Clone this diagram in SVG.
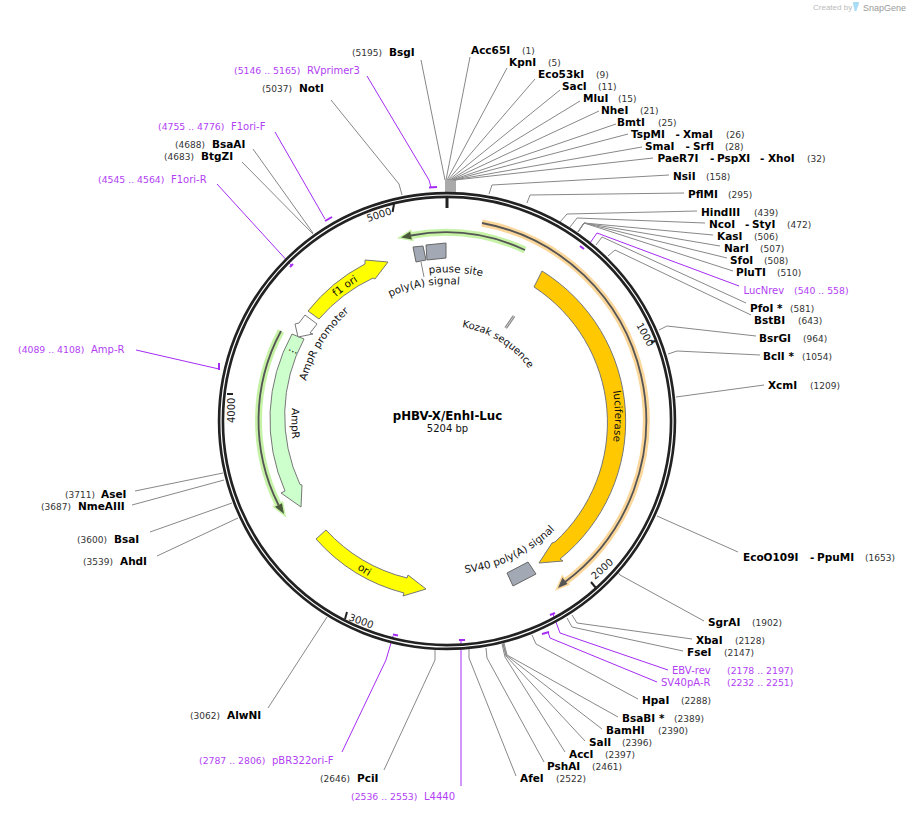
<svg xmlns="http://www.w3.org/2000/svg" width="911" height="813" viewBox="0 0 911 813">
<style>
text{font-family:"DejaVu Sans",sans-serif}
.n{font-size:10.5px;font-weight:bold;fill:#000}
.p{font-size:9px;fill:#333}
.pr{font-size:10px;fill:#b23ff5}
.pp{font-size:9.3px;fill:#b23ff5}
.f{font-size:10.4px;fill:#111}
.t{font-size:10px;fill:#222}
.l{fill:none;stroke:#888;stroke-width:1}
.lp{fill:none;stroke:#a52cf5;stroke-width:1}
.m{fill:none;stroke:#a52cf5;stroke-width:2}
.a{stroke:#777;stroke-width:1;stroke-linejoin:miter}
.b{fill:#a2a9b4;stroke:#666;stroke-width:1}
.g{fill:none;stroke:#c6f2a6;stroke-width:7}
.o{fill:none;stroke:#fbd79b;stroke-width:7}
.d{fill:none;stroke:#555;stroke-width:1.8}
.tk{stroke:#222;stroke-width:2;fill:none}
</style>
<defs>
<path id="pK" d="M462,327 A105,105 0 0 1 535,378"/>
<path id="pP" d="M429,273.5 A149,149 0 0 1 495,280"/>
<path id="pA" d="M390,297 A137,137 0 0 1 480,288"/>
<path id="pS" d="M465,573 A152,152 0 0 0 575,505"/>
<path id="pR" d="M306,381 A147,147 0 0 1 370,296"/>
<path id="pF" d="M336,297 A165,165 0 0 1 380,270"/>
<path id="pO" d="M357,569 A173.5,173.5 0 0 0 400,590"/>
<path id="pL" d="M613,391 A166.5,166.5 0 0 1 606,470"/>
<path id="pM" d="M292,408 A155.5,155.5 0 0 0 297,462"/>
</defs>

<g id="logo">
<text x="813" y="10" style="font-family:'Liberation Sans',sans-serif;font-size:8px;fill:#bbb">Created by</text>
<path d="M853,2 L859,2 C859,6 857,7 856.5,11 L854.5,11 C854.5,7 853,6 853,2 Z" fill="#a9dcf5"/>
<text x="863" y="11" style="font-family:'Liberation Sans',sans-serif;font-size:9px;fill:#9a9a9a">SnapGene</text>
</g>

<g id="connectors">
<rect x="445" y="180" width="11" height="12" fill="#aaa"/>
<polyline class="l" points="421,60 445,180"/>
<polyline class="l" points="470,57 446,180"/>
<polyline class="l" points="507,68 447,180"/>
<polyline class="l" points="535,79 448,180"/>
<polyline class="l" points="560,90 449,180"/>
<polyline class="l" points="580,101 450,180"/>
<polyline class="l" points="599,111 451,180"/>
<polyline class="l" points="616,124 452,180"/>
<polyline class="l" points="628,134 453,180"/>
<polyline class="l" points="642,147 454,180"/>
<polyline class="l" points="653,158 455,180"/>
<polyline class="l" points="669,175 492,185 489,194"/>
<polyline class="l" points="684,193 530,195 527,203"/>
<polyline class="l" points="697,211 567,214 560,222"/>
<polyline class="l" points="705,223 577,218 570,227"/>
<polyline class="l" points="713,235 584,223 578,232"/>
<polyline class="l" points="720,246 584,223 578,232"/>
<polyline class="l" points="727,258 584,223 578,232"/>
<polyline class="l" points="733,271 584,223 578,232"/>
<polyline class="lp" points="739,286 597,233 590,243"/>
<polyline class="l" points="746,303 602,237 596,245"/>
<polyline class="l" points="751,315 615,250 608,256"/>
<polyline class="l" points="756,336 667,326 659,330"/>
<polyline class="l" points="760,355 677,351 668,354"/>
<polyline class="l" points="764,385 676,397"/>
<polyline class="l" points="738,552 657,516"/>
<polyline class="l" points="704,621 620,575 617,571"/>
<polyline class="l" points="692,639 577,623 572,615"/>
<polyline class="l" points="683,651 572,627 567,618"/>
<polyline class="lp" points="668,670 560,633 553,614"/>
<polyline class="lp" points="657,682 550,638 548,632"/>
<polyline class="l" points="638,699 536,644 532,635"/>
<polyline class="l" points="618,717 507,655 504,643"/>
<polyline class="l" points="602,729 506,655 503,643"/>
<polyline class="l" points="585,741 506,656 503,644"/>
<polyline class="l" points="565,752 505,657 502,644"/>
<polyline class="l" points="544,762 487,658 486,648"/>
<polyline class="l" points="516,776 469,658 469,649"/>
<polyline class="l" points="384,770 435,660 435,650"/>
<polyline class="lp" points="461,786 461,640"/>
<polyline class="lp" points="342,752 386,660 393,636"/>
<polyline class="l" points="268,708 327,617"/>
<polyline class="l" points="157,556 238,518"/>
<polyline class="l" points="150,532 232,503"/>
<polyline class="l" points="132,505 224,480"/>
<polyline class="l" points="135,491 223,473"/>
<polyline class="lp" points="136,350 219,369"/>
<polyline class="lp" points="217,184 291,265"/>
<polyline class="l" points="242,162 313,234"/>
<polyline class="l" points="253,149 313,233"/>
<polyline class="lp" points="275,132 325,219"/>
<polyline class="l" points="331,100 399,184 402,195"/>
<polyline class="lp" points="367,76 429,180 431,187"/>
</g>

<g id="primer-marks">
<line class="m" x1="429" y1="187.5" x2="437" y2="187"/>
<line class="m" x1="325" y1="221" x2="332" y2="217"/>
<line class="m" x1="290" y1="267" x2="293" y2="264"/>
<line class="m" x1="219" y1="363" x2="219" y2="370"/>
<line class="m" x1="580" y1="246" x2="584" y2="249"/>
<line class="m" x1="550" y1="615" x2="555" y2="613"/>
<line class="m" x1="542" y1="634" x2="549" y2="632"/>
<line class="m" x1="459" y1="640" x2="465" y2="640"/>
<line class="m" x1="393" y1="634.5" x2="398" y2="635.5"/>
</g>

<g id="backbone">
<circle cx="447" cy="421" r="226" fill="none" stroke="#222" stroke-width="6.5"/>
<circle cx="447" cy="421" r="226" fill="none" stroke="#fff" stroke-width="1.2"/>
<line x1="447" y1="197" x2="447" y2="208" stroke="#222" stroke-width="3"/>
<line class="tk" x1="394" y1="204" x2="392.6" y2="212"/>
<line class="tk" x1="655" y1="341" x2="651" y2="342.5"/>
<line class="tk" x1="596" y1="588" x2="591" y2="582"/>
<line class="tk" x1="347" y1="612" x2="345" y2="619"/>
<line class="tk" x1="227" y1="394" x2="233" y2="394"/>
<text class="t" transform="translate(368,222) rotate(-18)">5000</text>
<text class="t" transform="translate(636,325) rotate(62)">1000</text>
<text class="t" transform="translate(595,580) rotate(-42)">2000</text>
<text class="t" transform="translate(348,620) rotate(20)">3000</text>
<text class="t" transform="translate(235,423) rotate(-90)">4000</text>
</g>

<g id="feature-luciferase">
<path class="a" fill="#ffc800" d="M542,271 A177,177 0 0 1 560,559 L563,561 L539,563 L552,543 L555,542 A162,162 0 0 0 534,287 Z"/>
<text class="f"><textPath href="#pL">luciferase</textPath></text>
</g>
<g id="feature-LucNrev-arc">
<path class="o" d="M482,223 A201,201 0 0 1 565,582"/>
<polygon points="567.5,584 562.5,577.5 558,588" fill="#fbd79b" stroke="#fbd79b" stroke-width="3"/>
<path class="d" d="M482,223 A201,201 0 0 1 565,582"/>
<polygon points="567.5,584 562.5,577.5 558,588" fill="#555"/>
</g>
<g id="feature-top-arc">
<path class="g" d="M525,250 A189,189 0 0 0 411,235.5"/>
<polygon points="410.2,231.6 411.8,239.4 401,237.4" fill="#c6f2a6" stroke="#c6f2a6" stroke-width="3"/>
<path class="d" d="M525,250 A189,189 0 0 0 411,235.5"/>
<polygon points="410.2,231.6 411.8,239.4 401,237.4" fill="#4a5a3a"/>
</g>
<g id="feature-left-arc">
<path class="g" d="M281,331 A189,189 0 0 0 278.5,505"/>
<polygon points="275,506.8 282,503.2 284,514" fill="#c6f2a6" stroke="#c6f2a6" stroke-width="3"/>
<path class="d" d="M281,331 A189,189 0 0 0 278.5,505"/>
<polygon points="275,506.8 282,503.2 284,514" fill="#4a5a3a"/>
</g>
<g id="feature-ampr">
<path class="a" fill="#ccffcc" d="M292,334 A177,177 0 0 0 285,491 L281,493 L301,507 L302,485 L300,484.5 A162,162 0 0 1 304,339 Z"/>
<text class="f"><textPath href="#pM">AmpR</textPath></text>
<text class="f" transform="translate(288,350) rotate(25)">...</text>
</g>
<g id="feature-ampr-promoter">
<polygon class="a" fill="#fff" points="305,315 299,323 295,324 298,337 313,334 310,333 317,324"/>
<text class="f"><textPath href="#pR">AmpR promoter</textPath></text>
</g>
<g id="feature-f1-ori">
<path class="a" fill="#ffff00" d="M308,311 A177,177 0 0 1 365,264 L365,260 L388,262 L375,279 L373,278 A163,163 0 0 0 319,319 Z"/>
<text class="f"><textPath href="#pF">f1 ori</textPath></text>
</g>
<g id="feature-ori">
<path class="a" fill="#ffff00" d="M316,539 A176,176 0 0 0 404,593 L403,596 L426,589 L408,575 L407,578 A163,163 0 0 1 326,530 Z"/>
<text class="f"><textPath href="#pO">ori</textPath></text>
</g>
<g id="feature-polyA">
<polygon class="b" points="413,247 423,246 426,260 416,262"/>
<line x1="421" y1="262" x2="424" y2="277" stroke="#888"/>
<text class="f"><textPath href="#pA">poly(A) signal</textPath></text>
</g>
<g id="feature-pause">
<polygon class="b" points="426,245 446,243 446,258 427,260"/>
<text class="f"><textPath href="#pP">pause site</textPath></text>
</g>
<g id="feature-sv40">
<polygon class="b" points="507,573 528,562 536,574 513,586"/>
<text class="f"><textPath href="#pS">SV40 poly(A) signal</textPath></text>
</g>
<g id="feature-kozak">
<line x1="505.7" y1="328" x2="514" y2="316" stroke="#888" stroke-width="3"/>
<line x1="505.7" y1="328" x2="514" y2="316" stroke="#fff" stroke-width="0.6"/>
<text class="f" style="font-size:10px"><textPath href="#pK">Kozak sequence</textPath></text>
</g>

<g id="title">
<text x="447.5" y="420" text-anchor="middle" style="font-size:11.8px;font-weight:bold;fill:#000">pHBV-X/EnhI-Luc</text>
<text x="447.5" y="432" text-anchor="middle" style="font-size:10px;fill:#111">5204 bp</text>
</g>

<g id="site-BsgI"><text class="p" x="352" y="56">(5195)</text><text class="n" x="389" y="56">BsgI</text></g>
<g id="site-Acc65I"><text class="n" x="471" y="54">Acc65I</text><text class="p" x="522" y="54">(1)</text></g>
<g id="site-KpnI"><text class="n" x="509" y="66">KpnI</text><text class="p" x="548" y="66">(5)</text></g>
<g id="site-Eco53kI"><text class="n" x="538" y="78">Eco53kI</text><text class="p" x="596" y="78">(9)</text></g>
<g id="site-SacI"><text class="n" x="562" y="90">SacI</text><text class="p" x="598" y="90">(11)</text></g>
<g id="site-MluI"><text class="n" x="583" y="102">MluI</text><text class="p" x="618" y="102">(15)</text></g>
<g id="site-NheI"><text class="n" x="601" y="114">NheI</text><text class="p" x="640" y="114">(21)</text></g>
<g id="site-BmtI"><text class="n" x="617" y="126">BmtI</text><text class="p" x="658" y="126">(25)</text></g>
<g id="site-TspMI"><text class="n" x="631" y="138">TspMI</text><text class="n" x="675.5" y="138">-</text><text class="n" x="683" y="138">XmaI</text><text class="p" x="726" y="138">(26)</text></g>
<g id="site-SmaI"><text class="n" x="645" y="150">SmaI</text><text class="n" x="685.5" y="150">-</text><text class="n" x="693" y="150">SrfI</text><text class="p" x="725" y="150">(28)</text></g>
<g id="site-PaeR7I"><text class="n" x="657.5" y="162">PaeR7I</text><text class="n" x="710" y="162">-</text><text class="n" x="717" y="162">PspXI</text><text class="n" x="760" y="162">-</text><text class="n" x="768" y="162">XhoI</text><text class="p" x="807" y="162">(32)</text></g>
<g id="site-NsiI"><text class="n" x="673" y="180">NsiI</text><text class="p" x="706" y="180">(158)</text></g>
<g id="site-PflMI"><text class="n" x="688" y="198">PflMI</text><text class="p" x="728" y="198">(295)</text></g>
<g id="site-HindIII"><text class="n" x="701" y="216">HindIII</text><text class="p" x="754" y="216">(439)</text></g>
<g id="site-NcoI"><text class="n" x="709" y="228">NcoI</text><text class="n" x="745" y="228">-</text><text class="n" x="752" y="228">StyI</text><text class="p" x="787" y="228">(472)</text></g>
<g id="site-KasI"><text class="n" x="717" y="240">KasI</text><text class="p" x="754" y="240">(506)</text></g>
<g id="site-NarI"><text class="n" x="724" y="252">NarI</text><text class="p" x="760" y="252">(507)</text></g>
<g id="site-SfoI"><text class="n" x="730" y="264">SfoI</text><text class="p" x="764" y="264">(508)</text></g>
<g id="site-PluTI"><text class="n" x="736" y="276">PluTI</text><text class="p" x="777" y="276">(510)</text></g>
<g id="primer-LucNrev"><text class="pr" x="743.5" y="294">LucNrev</text><text class="pp" x="794" y="294">(540 .. 558)</text></g>
<g id="site-PfoI"><text class="n" x="750" y="312">PfoI *</text><text class="p" x="790" y="312">(581)</text></g>
<g id="site-BstBI"><text class="n" x="754" y="324">BstBI</text><text class="p" x="798" y="324">(643)</text></g>
<g id="site-BsrGI"><text class="n" x="759" y="342">BsrGI</text><text class="p" x="803" y="342">(964)</text></g>
<g id="site-BclI"><text class="n" x="763" y="360">BclI *</text><text class="p" x="802" y="360">(1054)</text></g>
<g id="site-XcmI"><text class="n" x="768" y="389">XcmI</text><text class="p" x="810" y="389">(1209)</text></g>
<g id="site-EcoO109I"><text class="n" x="743" y="561">EcoO109I</text><text class="n" x="810" y="561">-</text><text class="n" x="817" y="561">PpuMI</text><text class="p" x="865" y="561">(1653)</text></g>
<g id="site-SgrAI"><text class="n" x="708" y="626">SgrAI</text><text class="p" x="752" y="626">(1902)</text></g>
<g id="site-XbaI"><text class="n" x="696" y="644">XbaI</text><text class="p" x="735" y="644">(2128)</text></g>
<g id="site-FseI"><text class="n" x="687" y="656">FseI</text><text class="p" x="724" y="656">(2147)</text></g>
<g id="primer-EBV-rev"><text class="pr" x="672" y="674">EBV-rev</text><text class="pp" x="727" y="674">(2178 .. 2197)</text></g>
<g id="primer-SV40pA-R"><text class="pr" x="661" y="686">SV40pA-R</text><text class="pp" x="727" y="686">(2232 .. 2251)</text></g>
<g id="site-HpaI"><text class="n" x="642" y="704">HpaI</text><text class="p" x="681" y="704">(2288)</text></g>
<g id="site-BsaBI"><text class="n" x="622" y="722">BsaBI *</text><text class="p" x="674" y="722">(2389)</text></g>
<g id="site-BamHI"><text class="n" x="606" y="734">BamHI</text><text class="p" x="658" y="734">(2390)</text></g>
<g id="site-SalI"><text class="n" x="589" y="746">SalI</text><text class="p" x="622" y="746">(2396)</text></g>
<g id="site-AccI"><text class="n" x="569" y="758">AccI</text><text class="p" x="605" y="758">(2397)</text></g>
<g id="site-PshAI"><text class="n" x="547" y="770">PshAI</text><text class="p" x="592" y="770">(2461)</text></g>
<g id="site-AfeI"><text class="n" x="520" y="782">AfeI</text><text class="p" x="556" y="782">(2522)</text></g>
<g id="primer-L4440"><text class="pp" x="351" y="800">(2536 .. 2553)</text><text class="pr" x="424" y="800">L4440</text></g>
<g id="site-PciI"><text class="p" x="320" y="782">(2646)</text><text class="n" x="357" y="782">PciI</text></g>
<g id="primer-pBR322ori-F"><text class="pp" x="199" y="764">(2787 .. 2806)</text><text class="pr" x="272" y="764">pBR322ori-F</text></g>
<g id="site-AlwNI"><text class="p" x="190" y="719">(3062)</text><text class="n" x="227" y="719">AlwNI</text></g>
<g id="site-AhdI"><text class="p" x="83" y="565">(3539)</text><text class="n" x="120" y="565">AhdI</text></g>
<g id="site-BsaI"><text class="p" x="77" y="543">(3600)</text><text class="n" x="114" y="543">BsaI</text></g>
<g id="site-NmeAIII"><text class="p" x="41" y="510">(3687)</text><text class="n" x="78" y="510">NmeAIII</text></g>
<g id="site-AseI"><text class="p" x="65" y="498">(3711)</text><text class="n" x="101" y="498">AseI</text></g>
<g id="primer-Amp-R"><text class="pp" x="18" y="353">(4089 .. 4108)</text><text class="pr" x="91" y="353">Amp-R</text></g>
<g id="primer-F1ori-R"><text class="pp" x="98" y="183">(4545 .. 4564)</text><text class="pr" x="171" y="183">F1ori-R</text></g>
<g id="site-BtgZI"><text class="p" x="164" y="160">(4683)</text><text class="n" x="201" y="160">BtgZI</text></g>
<g id="site-BsaAI"><text class="p" x="175" y="148">(4688)</text><text class="n" x="212" y="148">BsaAI</text></g>
<g id="primer-F1ori-F"><text class="pp" x="158" y="130">(4755 .. 4776)</text><text class="pr" x="231" y="130">F1ori-F</text></g>
<g id="site-NotI"><text class="p" x="262" y="92">(5037)</text><text class="n" x="299" y="92">NotI</text></g>
<g id="primer-RVprimer3"><text class="pp" x="234" y="74">(5146 .. 5165)</text><text class="pr" x="307" y="74">RVprimer3</text></g>
</svg>
